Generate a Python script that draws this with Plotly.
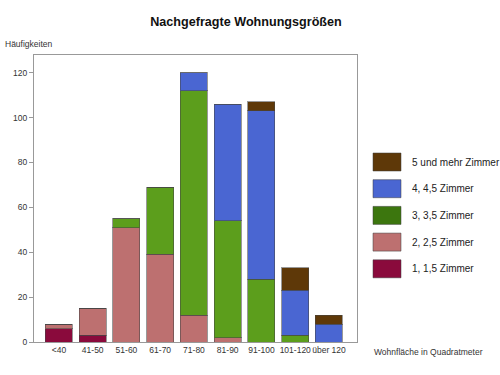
import plotly.graph_objects as go

categories = ["<40", "41-50", "51-60", "61-70", "71-80", "81-90", "91-100", "101-120", "über 120"]
zimmer_1 = [6, 3, 0, 0, 0, 0, 0, 0, 0]
zimmer_2 = [2, 12, 51, 39, 12, 2, 0, 0, 0]
zimmer_3 = [0, 0, 4, 30, 100, 52, 28, 3, 0]
zimmer_4 = [0, 0, 0, 0, 8, 52, 75, 20, 8]
zimmer_5 = [0, 0, 0, 0, 0, 0, 4, 10, 4]

series_names = ["1, 1,5 Zimmer", "2, 2,5 Zimmer", "3, 3,5 Zimmer", "4, 4,5 Zimmer", "5 und mehr Zimmer"]
series_values = [zimmer_1, zimmer_2, zimmer_3, zimmer_4, zimmer_5]
bar_colors = ["#8a0a3c", "#bd7070", "#5c9e1c", "#4a66d2", "#5e3808"]
legend_colors = ["#8a0a3c", "#bd7070", "#3c760e", "#4a66d2", "#5e3808"]
y_ticks = [0, 20, 40, 60, 80, 100, 120]

L, R, T, B = 34, 357, 55, 342
PW, PH = R - L, B - T

fig = go.Figure()
for name, vals, col in zip(series_names, series_values, bar_colors):
    fig.add_trace(go.Bar(
        x=categories, y=vals, name=name,
        marker=dict(color=col, line=dict(color="rgba(70,70,70,0.55)", width=1)),
        showlegend=False,
    ))

fig.update_layout(
    barmode="stack",
    bargap=0.2,
    width=500, height=375,
    margin=dict(l=L, r=500 - R, t=T, b=375 - B, autoexpand=False),
    paper_bgcolor="white", plot_bgcolor="white",
    font=dict(family="Liberation Sans, Arial, sans-serif", size=9, color="#333333"),
    title=dict(text="<b>Nachgefragte Wohnungsgrößen</b>", x=246 / 500, xanchor="center",
               y=1 - 22 / 375, yanchor="middle", font=dict(size=12.6, color="#111111")),
    xaxis=dict(range=[-0.74, 8.83], showline=True, linecolor="#999999", linewidth=1,
               mirror=True, ticks="", showgrid=False, tickangle=0, automargin=False,
               tickfont=dict(size=8.5, color="#333333")),
    yaxis=dict(range=[0, 127.9], tickvals=y_ticks, showline=True, linecolor="#999999",
               linewidth=1, mirror=True, ticks="outside", ticklen=4, tickcolor="#999999",
               showgrid=False, zeroline=False, automargin=False,
               tickfont=dict(size=8.5, color="#333333")),
)

fig.add_annotation(text="Häufigkeiten", xref="paper", yref="paper", x=(3 - L) / PW, y=(B - 44) / PH,
                   xanchor="left", yanchor="middle", showarrow=False, font=dict(size=8.5, color="#333333"))
fig.add_annotation(text="Wohnfläche in Quadratmeter", xref="paper", yref="paper", x=(372 - L) / PW,
                   y=(B - 352) / PH, xanchor="left", yanchor="middle", showarrow=False,
                   font=dict(size=8.5, color="#333333"))

# custom legend (top entry = last series)
for i, (name, col) in enumerate(zip(series_names[::-1], legend_colors[::-1])):
    top = 153 + i * 26.7
    bottom = top + 18
    fig.add_shape(type="rect", xref="paper", yref="paper",
                  x0=(373 - L) / PW, x1=(401 - L) / PW,
                  y0=(B - bottom) / PH, y1=(B - top) / PH,
                  fillcolor=col, line=dict(color="rgba(60,60,60,0.5)", width=1))
    fig.add_annotation(text=name, xref="paper", yref="paper", x=(410 - L) / PW,
                       y=(B - (top + 9)) / PH, xanchor="left", yanchor="middle",
                       showarrow=False, font=dict(size=10, color="#222222"))

fig.write_html("out.html", config={"displayModeBar": False},
               post_script="document.body.style.margin='0';")
